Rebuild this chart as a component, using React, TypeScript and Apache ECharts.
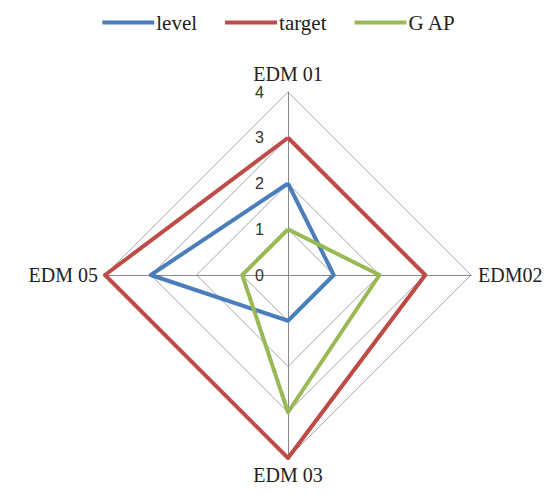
import React, { useEffect, useRef } from "react";
import * as echarts from "echarts";

// indicators listed counter-clockwise starting at the top (ECharts radar order)
const indicators = ["EDM 01", "EDM 05", "EDM 03", "EDM02"];
const maxValue = 4;
const levelValues = [2, 3, 1, 1];
const targetValues = [3, 4, 4, 3];
const gapValues = [1, 1, 3, 2];
const seriesNames = ["level", "target", "G AP"];
const seriesColors = ["#4A7EBB", "#BE4B48", "#98B954"];

export default function App() {
  const ref = useRef<HTMLDivElement>(null);
  useEffect(() => {
    if (!ref.current) return;
    const chart = echarts.init(ref.current, undefined, { renderer: "svg" });
    const valueSets = [levelValues, targetValues, gapValues];
    chart.setOption({
      animation: false,
      backgroundColor: "#ffffff",
      legend: {
        top: 7,
        left: "center",
        itemWidth: 52,
        itemHeight: 4,
        itemGap: 28,
        icon: "rect",
        textStyle: { fontFamily: "Liberation Serif", fontSize: 21, color: "#222", padding: [0, 0, 0, -3] },
        data: seriesNames,
      },
      radar: {
        center: [288, 275],
        radius: 183,
        startAngle: 90,
        shape: "polygon",
        splitNumber: 4,
        nameGap: 7,
        axisName: { fontFamily: "Liberation Serif", fontSize: 20, color: "#222" },
        splitLine: { lineStyle: { color: "#A6A6A6", width: 1 } },
        splitArea: { show: false },
        axisLine: { lineStyle: { color: "#888888", width: 1 } },
        axisLabel: { show: false },
        indicator: indicators.map((name, i) =>
          i === 0
            ? {
                name,
                min: 0,
                max: maxValue,
                axisLabel: {
                  show: true,
                  fontFamily: "Liberation Sans",
                  fontSize: 16,
                  color: "#333",
                  margin: 24,
                },
              }
            : { name, min: 0, max: maxValue }
        ),
      },
      series: [
        {
          type: "radar",
          symbol: "none",
          data: seriesNames.map((n, i) => ({
            name: n,
            value: valueSets[i],
            lineStyle: { color: seriesColors[i], width: 4 },
            itemStyle: { color: seriesColors[i] },
          })),
        },
      ],
    });
    return () => chart.dispose();
  }, []);
  return (
    <div
      ref={ref}
      style={{ position: "fixed", left: 0, top: 0, width: 558, height: 495 }}
    />
  );
}
